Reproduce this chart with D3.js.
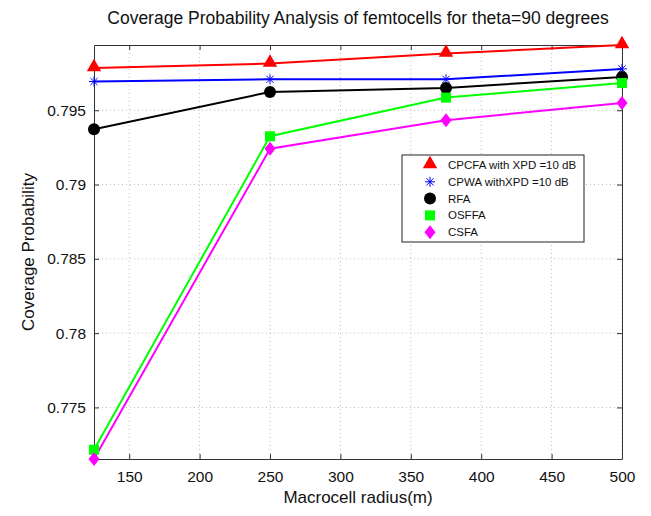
<!DOCTYPE html>
<html>
<head>
<meta charset="utf-8">
<script src="https://cdn.jsdelivr.net/npm/d3@7"></script>
<style>
  body { margin: 0; background: #fff; }
  text { font-family: "Liberation Sans", Arial, sans-serif; }
</style>
</head>
<body>
<div id="chart"></div>
<script>
// data
var radius = [125, 250, 375, 500];
var cpcfa = [0.79784, 0.79814, 0.79881, 0.79939];
var cpwa  = [0.79693, 0.79708, 0.79708, 0.79778];
var rfa   = [0.79372, 0.79623, 0.79650, 0.79724];
var osffa = [0.77215, 0.79325, 0.79585, 0.79683];
var csfa  = [0.77153, 0.79241, 0.79433, 0.79549];
var xTicks = [150, 200, 250, 300, 350, 400, 450, 500];
var yTicks = [0.775, 0.78, 0.785, 0.79, 0.795];

var series = [
  {name: 'CPCFA with XPD =10 dB', values: cpcfa, color: '#ff0000', marker: 'triangle'},
  {name: 'CPWA withXPD =10 dB', values: cpwa, color: '#0000ff', marker: 'star'},
  {name: 'RFA', values: rfa, color: '#000000', marker: 'circle'},
  {name: 'OSFFA', values: osffa, color: '#00ff00', marker: 'square'},
  {name: 'CSFA', values: csfa, color: '#ff00ff', marker: 'diamond'}
];

var W = 651, H = 516;
var m = {left: 94, right: 29, top: 45, bottom: 57};
var pw = W - m.left - m.right, ph = H - m.top - m.bottom;

var svg = d3.select('#chart').append('svg').attr('width', W).attr('height', H);
var g = svg.append('g').attr('transform', 'translate(' + m.left + ',' + m.top + ')');

var x = d3.scaleLinear().domain([125, 500]).range([0, pw]);
var y = d3.scaleLinear().domain([0.77153, 0.79939]).range([ph, 0]);

// grid
g.selectAll('.gx').data(xTicks).enter().append('line')
  .attr('x1', function(d){ return x(d); }).attr('x2', function(d){ return x(d); })
  .attr('y1', 0).attr('y2', ph)
  .attr('stroke', '#bbb').attr('stroke-width', 1).attr('stroke-dasharray', '1,3');
g.selectAll('.gy').data(yTicks).enter().append('line')
  .attr('y1', function(d){ return y(d); }).attr('y2', function(d){ return y(d); })
  .attr('x1', 0).attr('x2', pw)
  .attr('stroke', '#bbb').attr('stroke-width', 1).attr('stroke-dasharray', '1,3');

// axes with inward ticks
var axColor = '#333';
var xb = g.append('g').attr('transform', 'translate(0,' + ph + ')')
  .call(d3.axisBottom(x).tickValues(xTicks).tickSizeInner(-5).tickSizeOuter(0).tickPadding(12));
var yl = g.append('g')
  .call(d3.axisLeft(y).tickValues(yTicks).tickSizeInner(-5).tickSizeOuter(0).tickPadding(8).tickFormat(function(d){ return String(+d.toFixed(3)); }));
var xt = g.append('g')
  .call(d3.axisTop(x).tickValues(xTicks).tickSizeInner(-5).tickSizeOuter(0).tickFormat(''));
var yr = g.append('g').attr('transform', 'translate(' + pw + ',0)')
  .call(d3.axisRight(y).tickValues(yTicks).tickSizeInner(-5).tickSizeOuter(0).tickFormat(''));
[xb, yl, xt, yr].forEach(function(a){
  a.selectAll('path, line').attr('stroke', axColor);
  a.selectAll('text').attr('fill', '#111').style('font-size', '15.5px');
});

// lines
var line = d3.line()
  .x(function(d, i){ return x(radius[i]); })
  .y(function(d){ return y(d); });

series.forEach(function(s){
  g.append('path').datum(s.values)
    .attr('d', line).attr('fill', 'none')
    .attr('stroke', s.color).attr('stroke-width', 2);
});

function drawMarker(sel, type, color, cx, cy) {
  if (type === 'triangle') {
    sel.append('path').attr('d', d3.symbol().type(d3.symbolTriangle).size(90)())
      .attr('transform', 'translate(' + cx + ',' + (cy - 1) + ')').attr('fill', color);
  } else if (type === 'star') {
    var s = sel.append('g').attr('transform', 'translate(' + cx + ',' + cy + ')')
      .attr('stroke', color).attr('stroke-width', 1);
    s.append('line').attr('x1', -5).attr('x2', 5).attr('y1', 0).attr('y2', 0);
    s.append('line').attr('x1', 0).attr('x2', 0).attr('y1', -5).attr('y2', 5);
    s.append('line').attr('x1', -3.6).attr('x2', 3.6).attr('y1', -3.6).attr('y2', 3.6);
    s.append('line').attr('x1', -3.6).attr('x2', 3.6).attr('y1', 3.6).attr('y2', -3.6);
  } else if (type === 'circle') {
    sel.append('circle').attr('cx', cx).attr('cy', cy).attr('r', 6).attr('fill', color);
  } else if (type === 'square') {
    sel.append('rect').attr('x', cx - 5).attr('y', cy - 5).attr('width', 10).attr('height', 10).attr('fill', color);
  } else if (type === 'diamond') {
    sel.append('path').attr('d', 'M0,-7L5.5,0L0,7L-5.5,0Z')
      .attr('transform', 'translate(' + cx + ',' + cy + ')').attr('fill', color);
  }
}

series.forEach(function(s){
  s.values.forEach(function(v, i){
    drawMarker(g, s.marker, s.color, x(radius[i]), y(v));
  });
});

// legend
var lg = svg.append('g').attr('transform', 'translate(402,155)');
lg.append('rect').attr('width', 182).attr('height', 87)
  .attr('fill', '#fff').attr('stroke', '#222').attr('stroke-width', 1);
series.forEach(function(s, i){
  var ly = 10 + i * 16.8;
  drawMarker(lg, s.marker, s.color, 28, ly);
  lg.append('text').attr('x', 46).attr('y', ly + 4)
    .style('font-size', '11.5px').attr('fill', '#111').text(s.name);
});

// titles
svg.append('text').attr('x', m.left + pw / 2).attr('y', 24)
  .attr('text-anchor', 'middle').style('font-size', '17.5px').attr('fill', '#111')
  .text('Coverage Probability Analysis of femtocells for theta=90 degrees');
svg.append('text').attr('x', m.left + pw / 2).attr('y', 503)
  .attr('text-anchor', 'middle').style('font-size', '17px').attr('fill', '#111')
  .text('Macrocell radius(m)');
svg.append('text').attr('transform', 'translate(34,' + (m.top + ph / 2) + ') rotate(-90)')
  .attr('text-anchor', 'middle').style('font-size', '17px').attr('fill', '#111')
  .text('Coverage Probability');
</script>
</body>
</html>
